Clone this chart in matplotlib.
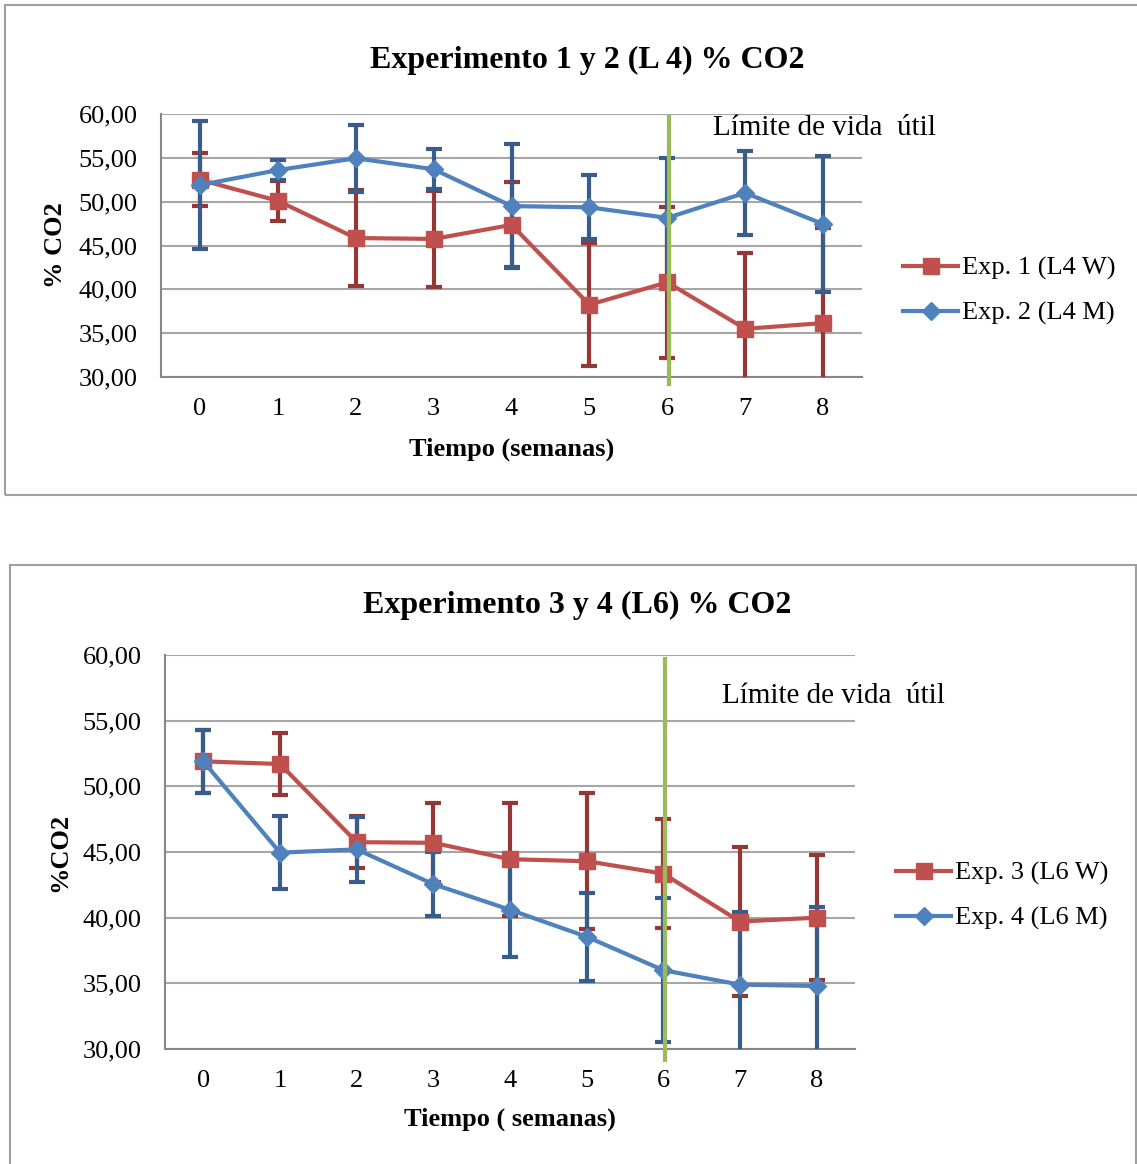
import matplotlib
matplotlib.use('Agg')
import matplotlib.pyplot as plt
from matplotlib.patches import Rectangle
from matplotlib.ticker import FuncFormatter

W, H = 1137, 1164

plt.rcParams['font.family'] = ['Liberation Serif', 'DejaVu Serif']

weeks = [0, 1, 2, 3, 4, 5, 6, 7, 8]
limit_week = 6

# experimento 1 y 2 (L4)
exp1 = [52.5, 50.1, 45.85, 45.75, 47.35, 38.25, 40.8, 35.5, 36.15]
exp1_err = [3.0, 2.3, 5.5, 5.5, 4.85, 7.0, 8.6, 8.7, 10.8]
exp2 = [51.9, 53.6, 54.95, 53.7, 49.5, 49.35, 48.15, 51.0, 47.45]
exp2_err = [7.35, 1.15, 3.8, 2.3, 7.1, 3.65, 6.8, 4.75, 7.75]

# experimento 3 y 4 (L6)
exp3 = [51.9, 51.7, 45.75, 45.7, 44.45, 44.3, 43.35, 39.7, 40.0]
exp3_err = [2.4, 2.35, 2.0, 3.0, 4.3, 5.2, 4.15, 5.65, 4.75]
exp4 = [51.9, 44.95, 45.2, 42.55, 40.6, 38.55, 36.0, 34.9, 34.8]
exp4_err = [2.4, 2.8, 2.45, 2.45, 3.6, 3.35, 5.5, 5.5, 6.0]

RED, RED_D = '#C0504D', '#953735'
BLUE, BLUE_D = '#4F81BD', '#385D8A'
GREEN = '#9BBB59'
GRID = '#A6A6A6'
FS = 19


def fx(x):
    return x / W


def fy(y):
    return 1 - y / H


def comma(v, pos):
    return f'{v:.2f}'.replace('.', ',')


def draw(ax, a, a_err, b, b_err, labels, leg_xy):
    for y, e, c, cd, m, ms, lab in [(a, a_err, RED, RED_D, 's', 11, labels[0]),
                                    (b, b_err, BLUE, BLUE_D, 'D', 9, labels[1])]:
        ax.errorbar(weeks, y, yerr=e, fmt='none', ecolor=cd, elinewidth=3,
                    capsize=6, capthick=3, zorder=3)
        ax.plot(weeks, y, color=c, lw=3, marker=m, ms=ms, label=lab, zorder=4)
    ax.plot([limit_week + 0.02] * 2, [59.7, 29.2], color=GREEN, lw=3,
            clip_on=False, zorder=5)
    ax.set_xlim(-0.5, 8.5)
    ax.set_ylim(30, 60)
    ax.set_xticks(weeks)
    ax.set_yticks(range(30, 61, 5))
    ax.yaxis.set_major_formatter(FuncFormatter(comma))
    ax.grid(axis='y', color=GRID, lw=1.5)
    ax.set_axisbelow(True)
    for s in ['top', 'right']:
        ax.spines[s].set_visible(False)
    for s in ['left', 'bottom']:
        ax.spines[s].set_color('#878787')
        ax.spines[s].set_linewidth(1.5)
    ax.tick_params(length=0, labelsize=FS)
    ax.tick_params(axis='x', pad=15)
    ax.tick_params(axis='y', pad=17)
    ax.legend(loc='center left', bbox_to_anchor=leg_xy,
              bbox_transform=ax.figure.transFigure, frameon=False,
              fontsize=FS, handlelength=2.1, handletextpad=0.15,
              labelspacing=0.8, borderaxespad=0, borderpad=0)


fig = plt.figure(figsize=(W / 100, H / 100), dpi=100)

fig.add_artist(Rectangle((fx(5), fy(495)), fx(1140 - 5), fy(5) - fy(495),
                         transform=fig.transFigure, fill=False,
                         edgecolor='#A0A0A0', lw=1.5))
fig.add_artist(Rectangle((fx(10), fy(1170)), fx(1136 - 10), fy(565) - fy(1170),
                         transform=fig.transFigure, fill=False,
                         edgecolor='#A0A0A0', lw=1.5))

ax1 = fig.add_axes([fx(161), fy(377), fx(862 - 161), fy(114) - fy(377)])
draw(ax1, exp1, exp1_err, exp2, exp2_err,
     ['Exp. 1 (L4 W)', 'Exp. 2 (L4 M)'], (fx(903), fy(291)))
ax2 = fig.add_axes([fx(165), fy(1049), fx(855 - 165), fy(655) - fy(1049)])
draw(ax2, exp3, exp3_err, exp4, exp4_err,
     ['Exp. 3 (L6 W)', 'Exp. 4 (L6 M)'], (fx(896), fy(896)))

fig.text(fx(587), fy(60), 'Experimento 1 y 2 (L 4) % CO2', ha='center',
         va='center', fontsize=23, fontweight='bold')
fig.text(fx(577), fy(605), 'Experimento 3 y 4 (L6) % CO2', ha='center',
         va='center', fontsize=23, fontweight='bold')
fig.text(fx(512), fy(449), 'Tiempo (semanas)', ha='center', va='center',
         fontsize=FS, fontweight='bold')
fig.text(fx(510), fy(1119), 'Tiempo ( semanas)', ha='center', va='center',
         fontsize=FS, fontweight='bold')
fig.text(fx(56), fy(245), '% CO2', ha='center', va='center', rotation=90,
         fontsize=FS, fontweight='bold')
fig.text(fx(60), fy(852), '%CO2', ha='center', va='center', rotation=90,
         fontsize=FS, fontweight='bold')
fig.text(fx(713), fy(128), 'Límite de vida  útil', ha='left', va='center',
         fontsize=21)
fig.text(fx(722), fy(696), 'Límite de vida  útil', ha='left', va='center',
         fontsize=21)

fig.savefig('out.png', dpi=100)
